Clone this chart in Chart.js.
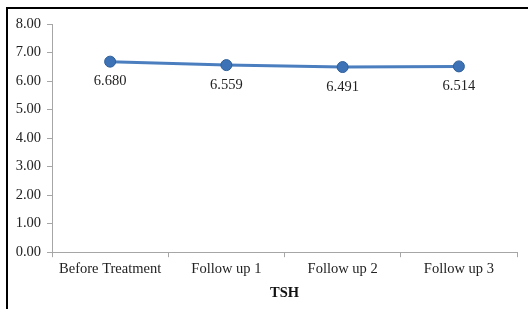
<!DOCTYPE html>
<html>
<head>
<meta charset="utf-8">
<script src="https://cdn.jsdelivr.net/npm/chart.js@4/dist/chart.umd.min.js"></script>
<style>
  html, body { margin: 0; padding: 0; background: #fff; }
  #wrap { width: 529px; height: 309px; position: relative; }
</style>
</head>
<body>
<div id="wrap"><canvas id="myChart"></canvas></div>
<script>
// chart data
const categories = ['Before Treatment', 'Follow up 1', 'Follow up 2', 'Follow up 3'];
const tshValues = [6.680, 6.559, 6.491, 6.514];
const valueLabels = ['6.680', '6.559', '6.491', '6.514'];
const yTicks = [0, 1, 2, 3, 4, 5, 6, 7, 8];

const serif = "'Liberation Serif', 'Times New Roman', serif";

// frame round the picture (left + top edge only)
const framePlugin = {
    id: 'frame',
    beforeDraw(chart) {
        const c = chart.ctx;
        c.save();
        c.fillStyle = '#fff';
        c.fillRect(0, 0, chart.width, chart.height);
        c.strokeStyle = '#000';
        c.lineWidth = 2;
        c.beginPath();
        c.moveTo(7, chart.height);
        c.lineTo(7, 8);
        c.lineTo(528, 8);
        c.stroke();
        c.restore();
    }
};

// value labels under each point
const pointLabels = {
    id: 'pointLabels',
    afterDatasetsDraw(chart) {
        const c = chart.ctx;
        const meta = chart.getDatasetMeta(0);
        c.save();
        c.font = '14.5px ' + serif;
        c.fillStyle = '#222';
        c.textAlign = 'center';
        c.textBaseline = 'middle';
        meta.data.forEach((pt, i) => {
            c.fillText(valueLabels[i], pt.x, pt.y + 20);
        });
        c.restore();
    }
};

const ctx = document.getElementById('myChart').getContext('2d');

const data = {
    labels: categories,
    datasets: [{
        label: 'TSH',
        data: tshValues,
        borderColor: '#4a7ebf',
        borderWidth: 3,
        backgroundColor: '#3a70b3',
        pointBackgroundColor: '#3d73b6',
        pointBorderColor: '#2f5f9a',
        pointBorderWidth: 1,
        pointRadius: 5.5,
        tension: 0,
    }],
};

const config = {
    type: 'line',
    data: data,
    plugins: [framePlugin, pointLabels],
    options: {
        responsive: false,
        animation: false,
        devicePixelRatio: 1,
        layout: {
            padding: { left: 0, right: 12, top: 24, bottom: 7 }
        },
        plugins: {
            legend: { display: false },
            tooltip: { enabled: false },
        },
        scales: {
            x: {
                offset: true,
                grid: {
                    offset: true,
                    drawOnChartArea: false,
                    tickLength: 5,
                    color: '#a6a6a6',
                },
                border: { color: '#a6a6a6', width: 1 },
                ticks: {
                    font: { family: serif, size: 14.5 },
                    color: '#222',
                    padding: 3,
                    maxRotation: 0,
                },
                title: {
                    display: true,
                    text: 'TSH',
                    font: { family: serif, size: 14.5, weight: 'bold' },
                    color: '#111',
                    padding: { top: 4, bottom: 0 },
                },
            },
            y: {
                min: 0,
                max: 8,
                afterFit: (scale) => { scale.width = 52; },
                afterBuildTicks: (scale) => {
                    scale.ticks = yTicks.map(v => ({ value: v }));
                },
                grid: {
                    drawOnChartArea: false,
                    tickLength: 5,
                    color: '#a6a6a6',
                },
                border: { color: '#a6a6a6', width: 1 },
                ticks: {
                    font: { family: serif, size: 14.5 },
                    color: '#222',
                    padding: 6,
                    callback: (v) => Number(v).toFixed(2),
                },
            },
        },
    },
};

const canvas = document.getElementById('myChart');
canvas.width = 529;
canvas.height = 309;
const myChart = new Chart(ctx, config);
</script>
</body>
</html>
